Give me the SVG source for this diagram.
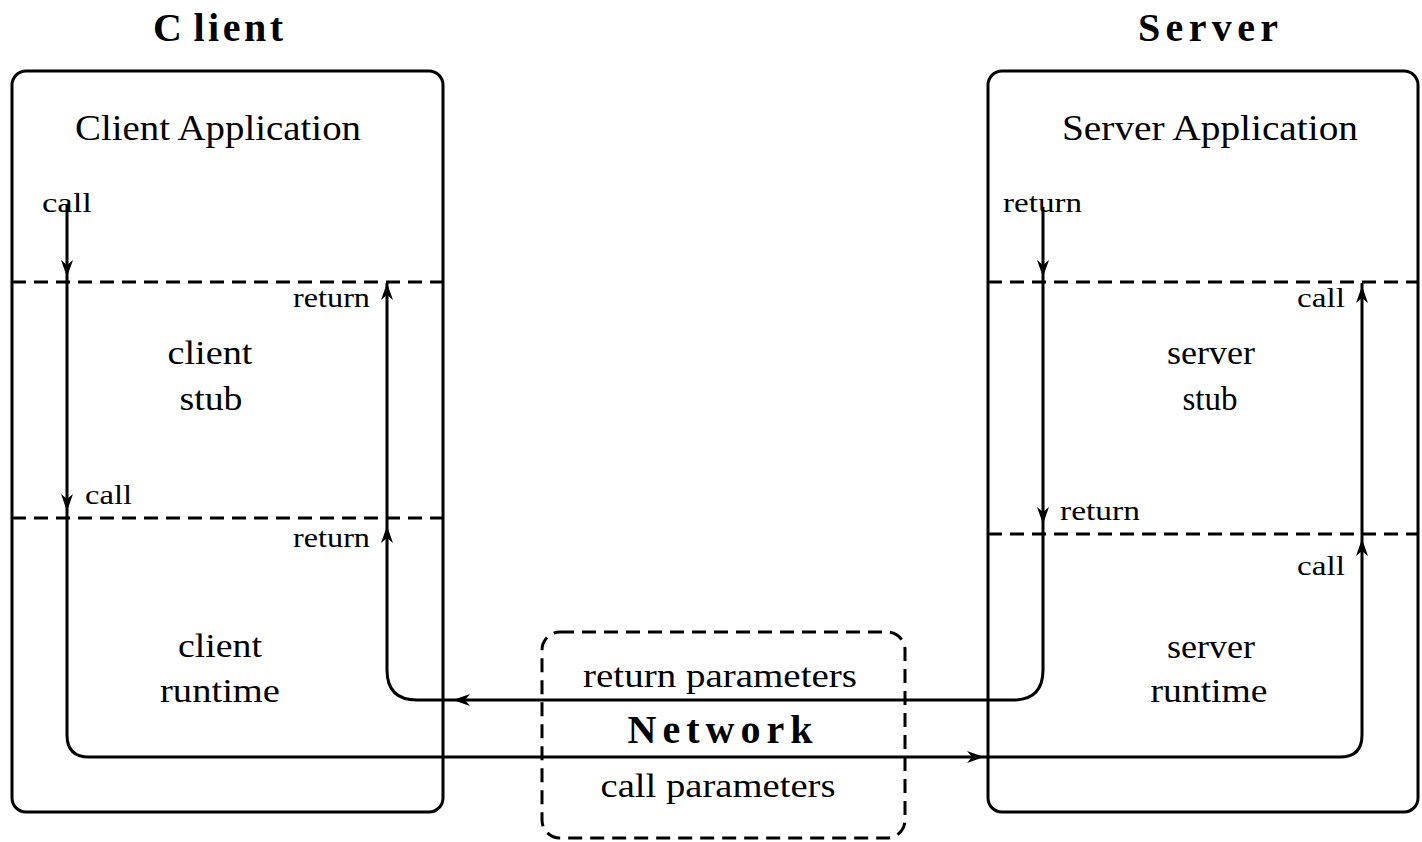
<svg xmlns="http://www.w3.org/2000/svg" width="1422" height="842" viewBox="0 0 1422 842">
  <style>
    .box { fill: none; stroke: #000; stroke-width: 3; }
    .dash { fill: none; stroke: #000; stroke-width: 3; stroke-dasharray: 14 8; }
    .flow { fill: none; stroke: #000; stroke-width: 3; }
    .head { fill: #000; stroke: none; }
    text { font-family: "Liberation Serif", "Times New Roman", serif; fill: #000; }
    .title { font-size: 40px; font-weight: bold; text-anchor: middle; }
    .app { font-size: 36px; text-anchor: middle; }
    .layer { font-size: 33px; text-anchor: middle; }
    .lbl { font-size: 28px; }
    .net { font-size: 33px; text-anchor: middle; }
    .netb { font-size: 40px; font-weight: bold; text-anchor: middle; }
  </style>
  <rect width="1422" height="842" fill="#fff"/>

  <!-- client side -->
  <g id="client">
    <text class="title" x="218" y="41" textLength="130" lengthAdjust="spacing">C<tspan dx="8">lient</tspan></text>
    <rect class="box" x="12" y="71" width="431" height="741" rx="14"/>
    <line class="dash" x1="12" y1="282" x2="443" y2="282"/>
    <line class="dash" x1="12" y1="518" x2="443" y2="518"/>
    <text class="app" x="218" y="140" textLength="286" lengthAdjust="spacingAndGlyphs">Client Application</text>
    <text class="layer" x="210" y="364" textLength="85" lengthAdjust="spacingAndGlyphs">client</text>
    <text class="layer" x="211" y="410" textLength="63" lengthAdjust="spacingAndGlyphs">stub</text>
    <text class="layer" x="220" y="657" textLength="84" lengthAdjust="spacingAndGlyphs">client</text>
    <text class="layer" x="220" y="702" textLength="120" lengthAdjust="spacingAndGlyphs">runtime</text>
  </g>

  <!-- server side -->
  <g id="server">
    <text class="title" x="1208" y="41" textLength="140" lengthAdjust="spacing">Server</text>
    <rect class="box" x="988" y="71" width="430" height="741" rx="14"/>
    <line class="dash" x1="988" y1="282" x2="1418" y2="282"/>
    <line class="dash" x1="988" y1="534" x2="1418" y2="534"/>
    <text class="app" x="1210" y="140" textLength="296" lengthAdjust="spacingAndGlyphs">Server Application</text>
    <text class="layer" x="1211" y="364" textLength="88" lengthAdjust="spacingAndGlyphs">server</text>
    <text class="layer" x="1210" y="410" textLength="55" lengthAdjust="spacingAndGlyphs">stub</text>
    <text class="layer" x="1211" y="658" textLength="88" lengthAdjust="spacingAndGlyphs">server</text>
    <text class="layer" x="1209" y="702" textLength="117" lengthAdjust="spacingAndGlyphs">runtime</text>
  </g>

  <!-- network -->
  <g id="network">
    <rect class="dash" x="542" y="632" width="363" height="206" rx="18"/>
    <text class="net" x="720" y="687" textLength="274" lengthAdjust="spacingAndGlyphs">return parameters</text>
    <text class="netb" x="720" y="743" textLength="185" lengthAdjust="spacing">Network</text>
    <text class="net" x="718" y="797" textLength="235" lengthAdjust="spacingAndGlyphs">call parameters</text>
  </g>

  <!-- call and return paths -->
  <g id="connectors">
    <path class="flow" d="M67,205 V735 Q67,757 89,757 H1340 Q1362,757 1362,735 V283"/>
    <path class="flow" d="M1043,207 V670 Q1043,700 1013,700 H417 Q387,700 387,670 V283"/>

    <!-- arrowheads -->
    <path class="head" d="M67,277 L61,260 L67,265 L73,260 Z"/>
    <path class="head" d="M67,511 L61,494 L67,499 L73,494 Z"/>
    <path class="head" d="M387,283 L381,300 L387,295 L393,300 Z"/>
    <path class="head" d="M387,526 L381,543 L387,538 L393,543 Z"/>
    <path class="head" d="M1043,277 L1037,260 L1043,265 L1049,260 Z"/>
    <path class="head" d="M1043,524 L1037,507 L1043,512 L1049,507 Z"/>
    <path class="head" d="M1362,286 L1356,303 L1362,298 L1368,303 Z"/>
    <path class="head" d="M1362,539 L1356,556 L1362,551 L1368,556 Z"/>
    <path class="head" d="M453,700 L470,694 L465,700 L470,706 Z"/>
    <path class="head" d="M984,757 L967,751 L972,757 L967,763 Z"/>

    <!-- labels -->
    <text class="lbl" x="42" y="212" textLength="50" lengthAdjust="spacingAndGlyphs">call</text>
    <text class="lbl" x="293" y="307" textLength="77" lengthAdjust="spacingAndGlyphs">return</text>
    <text class="lbl" x="85" y="504" textLength="47" lengthAdjust="spacingAndGlyphs">call</text>
    <text class="lbl" x="293" y="547" textLength="77" lengthAdjust="spacingAndGlyphs">return</text>
    <text class="lbl" x="1003" y="212" textLength="79" lengthAdjust="spacingAndGlyphs">return</text>
    <text class="lbl" x="1297" y="307" textLength="48" lengthAdjust="spacingAndGlyphs">call</text>
    <text class="lbl" x="1060" y="520" textLength="80" lengthAdjust="spacingAndGlyphs">return</text>
    <text class="lbl" x="1297" y="575" textLength="48" lengthAdjust="spacingAndGlyphs">call</text>
  </g>
</svg>
